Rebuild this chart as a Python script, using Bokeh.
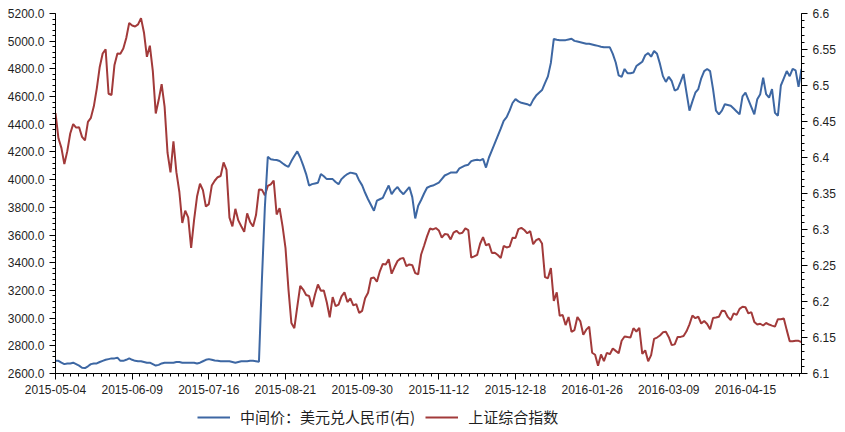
from bokeh.plotting import figure
from bokeh.layouts import column
from bokeh.models import (Range1d, LinearAxis, FixedTicker, SingleIntervalTicker,
                          NumeralTickFormatter, Legend, LegendItem, ColumnDataSource)
from bokeh.embed import file_html
from bokeh.resources import INLINE

# ---------------- data ----------------
tick_labels = ["2015-05-04", "2015-06-09", "2015-07-16", "2015-08-21", "2015-09-30",
               "2015-11-12", "2015-12-18", "2016-01-26", "2016-03-09", "2016-04-15"]
label_step = 26  # trading days between labelled dates

right_ticks = [6.1, 6.15, 6.2, 6.25, 6.3, 6.35, 6.4, 6.45, 6.5, 6.55, 6.6]

sh_index = [
    # 2015-05
    4480.46, 4298.71, 4229.27, 4112.21, 4205.92, 4333.58, 4401.22, 4375.76, 4378.31, 4308.69,
    4283.49, 4417.55, 4446.29, 4529.42, 4657.60, 4813.80, 4910.90, 4941.71, 4620.27, 4611.74,
    # 2015-06
    4828.74, 4910.53, 4909.98, 4947.10, 5023.10, 5131.88, 5113.53, 5106.04, 5121.59, 5166.35,
    5062.99, 4887.43, 4967.90, 4785.36, 4478.36, 4576.49, 4690.15, 4527.78, 4192.87, 4053.03,
    4277.22,
    # 2015-07
    4053.70, 3912.77, 3686.92, 3775.91, 3727.12, 3507.19, 3709.33, 3877.80, 3970.39, 3924.49,
    3805.70, 3823.18, 3957.35, 3992.11, 4017.67, 4026.05, 4123.92, 4070.91, 3725.56, 3663.00,
    3789.17, 3705.77, 3663.73,
    # 2015-08
    3622.91, 3756.54, 3694.57, 3661.54, 3744.20, 3928.42, 3927.91, 3886.32, 3954.56, 3965.33,
    3993.67, 3748.16, 3794.11, 3664.29, 3507.74, 3209.91, 2964.97, 2927.29, 3083.59, 3232.35,
    3205.99,
    # 2015-09
    3166.62, 3160.17, 3080.42, 3170.45, 3243.09, 3197.89, 3200.23, 3114.80, 3005.17, 3152.26,
    3086.06, 3097.92, 3156.54, 3185.62, 3115.89, 3142.69, 3092.35, 3100.76, 3038.14, 3052.78,
    # 2015-10
    3143.36, 3183.15, 3287.66, 3293.23, 3262.44, 3338.07, 3391.35, 3386.70, 3425.33, 3320.68,
    3368.74, 3412.43, 3429.58, 3434.34, 3375.20, 3387.32, 3382.56,
    # 2015-11
    3325.08, 3316.70, 3459.64, 3522.82, 3590.03, 3646.88, 3640.49, 3650.25, 3632.90, 3580.84,
    3606.96, 3604.80, 3568.47, 3617.06, 3630.50, 3610.31, 3616.11, 3647.93, 3635.55, 3436.30,
    3445.40,
    # 2015-12
    3456.31, 3536.91, 3584.82, 3524.99, 3536.93, 3470.07, 3472.44, 3455.50, 3434.58, 3520.67,
    3510.35, 3516.19, 3580.00, 3578.96, 3642.47, 3651.77, 3636.09, 3612.49, 3627.91, 3533.78,
    3563.74, 3572.88, 3539.18,
    # 2016-01
    3296.26, 3287.71, 3361.84, 3125.00, 3186.41, 3016.70, 3022.86, 2949.60, 3007.65, 2900.97,
    2913.84, 3007.74, 2976.69, 2880.48, 2916.56, 2938.51, 2749.79, 2735.56, 2655.66, 2737.60,
    # 2016-02
    2688.85, 2749.57, 2739.25, 2781.02, 2763.49, 2746.20, 2836.57, 2867.34, 2862.89, 2860.02,
    2927.18, 2903.33, 2928.90, 2741.25, 2767.21, 2687.98,
    # 2016-03
    2733.17, 2849.68, 2859.76, 2874.15, 2897.34, 2901.39, 2862.56, 2804.73, 2810.31, 2863.74,
    2864.37, 2870.43, 2904.83, 2955.15, 3018.80, 2999.36, 3009.96, 2960.97, 2979.43, 2957.82,
    2919.83, 3000.65, 3003.92,
    # 2016-04
    3009.53, 3053.07, 3050.59, 3008.42, 2984.96, 3033.96, 3023.65, 3066.64, 3082.36, 3078.12,
    3033.66, 3042.82, 2972.58, 2953.67, 2959.24, 2946.67, 2964.70, 2953.51, 2945.59, 2938.32,
    # 2016-05
    2992.64, 2991.27, 2997.84, 2913.25, 2832.11, 2832.59, 2837.04, 2835.86, 2827.11,
]

usd_cny = [
    6.1176, 6.1176, 6.1150, 6.1130, 6.1140, 6.1140, 6.1150, 6.1130, 6.1110, 6.1080,
    6.1075, 6.1100, 6.1130, 6.1140, 6.1140, 6.1160, 6.1176, 6.1190, 6.1200, 6.1210,
    6.1210, 6.1220, 6.1176, 6.1176, 6.1190, 6.1210, 6.1190, 6.1176, 6.1170, 6.1170,
    6.1160, 6.1150, 6.1150, 6.1130, 6.1110, 6.1120, 6.1140, 6.1150, 6.1150, 6.1150,
    6.1150, 6.1160, 6.1160, 6.1150, 6.1150, 6.1150, 6.1150, 6.1150, 6.1140, 6.1150,
    6.1170, 6.1190, 6.1200, 6.1190, 6.1180, 6.1176, 6.1170, 6.1170, 6.1170, 6.1170,
    6.1160, 6.1150, 6.1160, 6.1170, 6.1170, 6.1170, 6.1176, 6.1176, 6.1170, 6.1162,
    6.2298, 6.3306, 6.4010, 6.3975, 6.3969, 6.3966, 6.3952, 6.3920, 6.3890, 6.3870,
    6.3950, 6.4020, 6.4085, 6.4000, 6.3890, 6.3770, 6.3610, 6.3630, 6.3640, 6.3650,
    6.3770, 6.3740, 6.3700, 6.3700, 6.3700, 6.3660, 6.3630, 6.3700, 6.3740, 6.3770,
    6.3790, 6.3780, 6.3770, 6.3680, 6.3613, 6.3510, 6.3420, 6.3340, 6.3260, 6.3400,
    6.3420, 6.3440, 6.3530, 6.3610, 6.3490, 6.3550, 6.3590, 6.3530, 6.3490, 6.3540,
    6.3590, 6.3450, 6.3154, 6.3330, 6.3410, 6.3500, 6.3580, 6.3600, 6.3610, 6.3630,
    6.3650, 6.3700, 6.3750, 6.3770, 6.3790, 6.3790, 6.3790, 6.3850, 6.3870, 6.3890,
    6.3900, 6.3950, 6.3962, 6.3970, 6.3960, 6.3980, 6.3860, 6.4000, 6.4100, 6.4200,
    6.4300, 6.4400, 6.4510, 6.4560, 6.4650, 6.4757, 6.4810, 6.4780, 6.4760, 6.4750,
    6.4740, 6.4720, 6.4800, 6.4860, 6.4900, 6.4936, 6.5032, 6.5127, 6.5314, 6.5646,
    6.5636, 6.5628, 6.5630, 6.5630, 6.5640, 6.5650, 6.5620, 6.5610, 6.5600, 6.5590,
    6.5580, 6.5580, 6.5570, 6.5560, 6.5550, 6.5539, 6.5530, 6.5530, 6.5530, 6.5440,
    6.5320, 6.5140, 6.5120, 6.5230, 6.5170, 6.5170, 6.5180, 6.5270, 6.5300, 6.5330,
    6.5420, 6.5450, 6.5400, 6.5480, 6.5440, 6.5300, 6.5130, 6.5050, 6.5120, 6.5060,
    6.4930, 6.4950, 6.5050, 6.5160, 6.4900, 6.4650, 6.4780, 6.4900, 6.4950, 6.5100,
    6.5200, 6.5230, 6.5200, 6.4950, 6.4650, 6.4600, 6.4650, 6.4740, 6.4730, 6.4720,
    6.4680, 6.4640, 6.4600, 6.4850, 6.4900, 6.4800, 6.4700, 6.4600, 6.4810, 6.4880,
    6.5110, 6.4880, 6.4830, 6.4950, 6.4620, 6.4580, 6.5000, 6.5100, 6.5200, 6.5130,
    6.5230, 6.5210, 6.4980, 6.5230,
]

series_names = ["中间价：美元兑人民币(右)", "上证综合指数"]
series_colors = ["#3D67A3", "#A23A3A"]

n = min(len(sh_index), len(usd_cny))
idx = list(range(n))
src = ColumnDataSource(dict(x=idx, sh=sh_index[:n], fx=usd_cny[:n]))

W = 845
p = figure(width=W, height=398, output_backend="svg", toolbar_location=None,
           x_range=Range1d(0, n - 1), y_range=Range1d(2600, 5200),
           min_border_left=55, min_border_right=44, min_border_top=13, min_border_bottom=25)
p.xgrid.visible = False
p.ygrid.visible = False
p.outline_line_color = None
p.background_fill_color = "white"
p.border_fill_color = "white"

p.extra_y_ranges = {"right": Range1d(6.1, 6.6)}

red = p.line("x", "sh", source=src, line_color=series_colors[1], line_width=2)
blue = p.line("x", "fx", source=src, line_color=series_colors[0], line_width=2,
              y_range_name="right")

FONT = "Liberation Sans"
TXT = "#1f1f1f"

# x axis
xa = p.xaxis[0]
major = [i * label_step for i in range(len(tick_labels))]
minor = [round(i * label_step / 10, 3) for i in range(int((n - 1) * 10 / label_step) + 1)]
xa.ticker = FixedTicker(ticks=major, minor_ticks=minor)
xa.major_label_overrides = {m: t for m, t in zip(major, tick_labels)}

# left axis
ya = p.yaxis[0]
ya.ticker = SingleIntervalTicker(interval=200, num_minor_ticks=5)
ya.formatter = NumeralTickFormatter(format="0.0")

# right axis
ra = LinearAxis(y_range_name="right")
r_minor = [round(right_ticks[0] + 0.01 * k, 2) for k in range(51)]
ra.ticker = FixedTicker(ticks=right_ticks, minor_ticks=r_minor)
ra.formatter = NumeralTickFormatter(format="0.0[0]")
p.add_layout(ra, "right")

for ax in (xa, ya, ra):
    ax.axis_line_color = "black"
    ax.major_tick_line_color = "black"
    ax.minor_tick_line_color = "black"
    ax.major_tick_in = 0
    ax.minor_tick_in = 0
    ax.major_tick_out = 6
    ax.minor_tick_out = 3
    ax.major_label_text_font = FONT
    ax.major_label_text_font_size = "12px"
    ax.major_label_text_color = TXT
    ax.major_label_standoff = 5

# ---------------- legend strip ----------------
p2 = figure(width=W, height=34, output_backend="svg", toolbar_location=None,
            x_range=Range1d(0, 1), y_range=Range1d(0, 1),
            x_axis_location=None, y_axis_location=None,
            min_border_left=0, min_border_right=0, min_border_top=0, min_border_bottom=0)
p2.xgrid.visible = False
p2.ygrid.visible = False
p2.outline_line_color = None
p2.background_fill_color = "white"
p2.border_fill_color = "white"
# legend proxies: lines lying outside the visible range of this strip
lb = p2.line(x=[-3, -2], y=[-3, -2], line_color=series_colors[0], line_width=2)
lr = p2.line(x=[-3, -2], y=[-3, -2], line_color=series_colors[1], line_width=2)

legend = Legend(items=[LegendItem(label=series_names[0], renderers=[lb]),
                       LegendItem(label=series_names[1], renderers=[lr])],
                orientation="horizontal", location=(142, 5),
                border_line_color=None, background_fill_alpha=0,
                label_text_font="Noto Sans CJK SC", label_text_font_size="15px",
                label_text_color=TXT, glyph_width=33, glyph_height=20,
                label_standoff=10, spacing=10, padding=7, margin=0)
p2.add_layout(legend, "center")

layout = column(p, p2, spacing=0)
open("out.html", "w").write(file_html(layout, INLINE))
